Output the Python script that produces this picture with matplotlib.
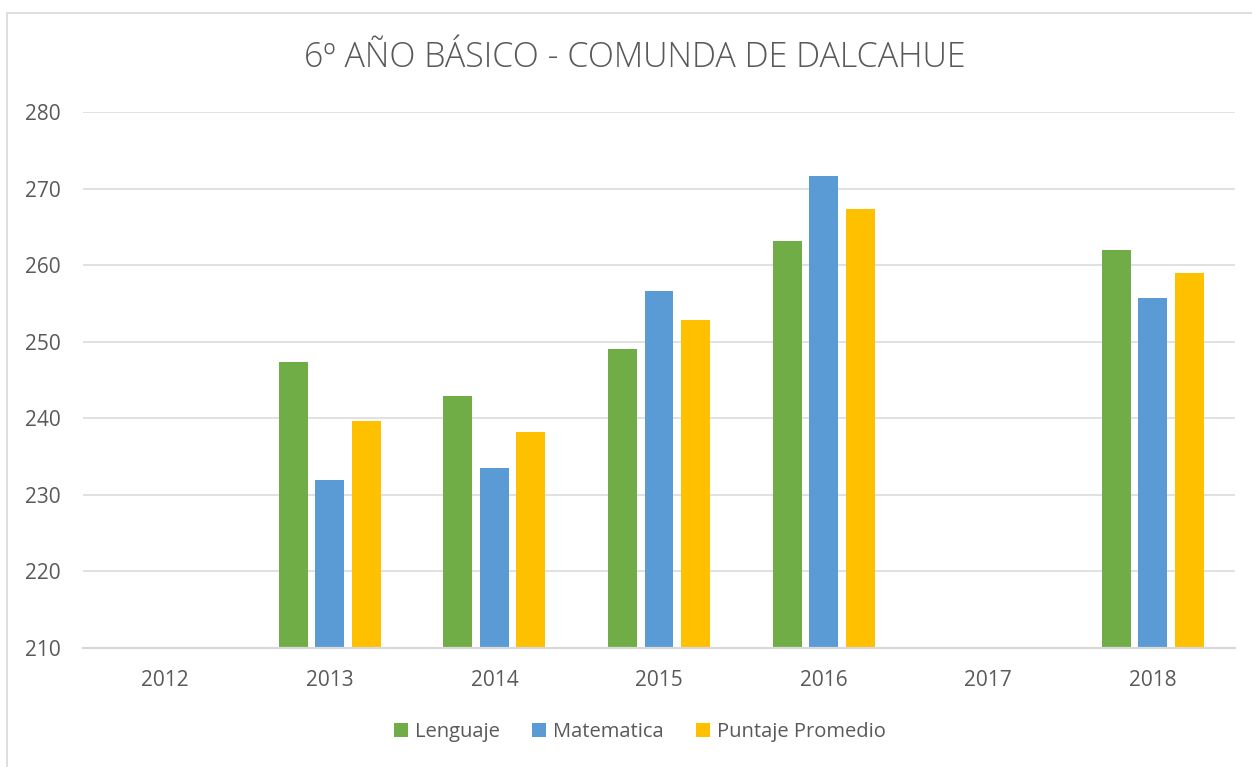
import numpy as np
import matplotlib
matplotlib.use("Agg")
import matplotlib.pyplot as plt
from matplotlib.patches import Rectangle, Patch

years = ["2012", "2013", "2014", "2015", "2016", "2017", "2018"]
lenguaje = [np.nan, 247.4, 242.9, 249.1, 263.2, np.nan, 262.0]
matematica = [np.nan, 231.9, 233.5, 256.6, 271.6, np.nan, 255.7]
promedio = [np.nan, 239.6, 238.2, 252.8, 267.3, np.nan, 259.0]
series_names = ["Lenguaje", "Matematica", "Puntaje Promedio"]
colors = ["#70AD47", "#5B9BD5", "#FFC000"]
title = "6º AÑO BÁSICO - COMUNDA DE DALCAHUE"

plt.rcParams['font.family'] = ['Open Sans', 'DejaVu Sans']

W, H = 1252, 767
fig = plt.figure(figsize=(W/100, H/100), dpi=100)
ax = fig.add_axes([83/W, 1-648/H, 1152/W, 536/H])

x = np.arange(len(years))
bw = 0.176
step = 0.222
for i, (vals, c) in enumerate(zip([lenguaje, matematica, promedio], colors)):
    v = np.array(vals, dtype=float)
    ax.bar(x + (i-1)*step, v - 210, bottom=210, width=bw, color=c, zorder=3)

ax.set_xlim(-0.5, len(years)-0.5)
ax.set_ylim(210, 280)
ax.set_yticks(np.arange(210, 281, 10))
ax.set_xticks(x)
ax.set_xticklabels(years)
ax.grid(axis='y', color='#D9D9D9', linewidth=1.1, zorder=0)
ax.set_axisbelow(True)
for s in ['top', 'right', 'left']:
    ax.spines[s].set_visible(False)
ax.spines['bottom'].set_color('#D9D9D9')
ax.spines['bottom'].set_linewidth(1.6)
ax.spines['bottom'].set_zorder(4)
ax.tick_params(axis='both', length=0, labelsize=15, colors='#595959')
ax.tick_params(axis='x', pad=16)
ax.tick_params(axis='y', pad=16)

fig.text(635/W, 1-58/H, title, ha='center', va='center', fontsize=24.5,
         color='#595959', fontweight='light')

handles = [Patch(facecolor=c, edgecolor='none') for c in colors]
fig.legend(handles, series_names, loc='center', bbox_to_anchor=(640/W, 1-732/H),
           ncol=3, frameon=False, fontsize=14.5, handlelength=0.7, handleheight=0.7,
           handletextpad=0.35, columnspacing=1.6, labelcolor='#595959')

fig.patches.append(Rectangle((7/W, -0.1), 1.2, 1.1 - 13/H, transform=fig.transFigure,
                             fill=False, edgecolor='#D9D9D9', linewidth=1.2))

fig.savefig("out.png", dpi=100, facecolor='white')
